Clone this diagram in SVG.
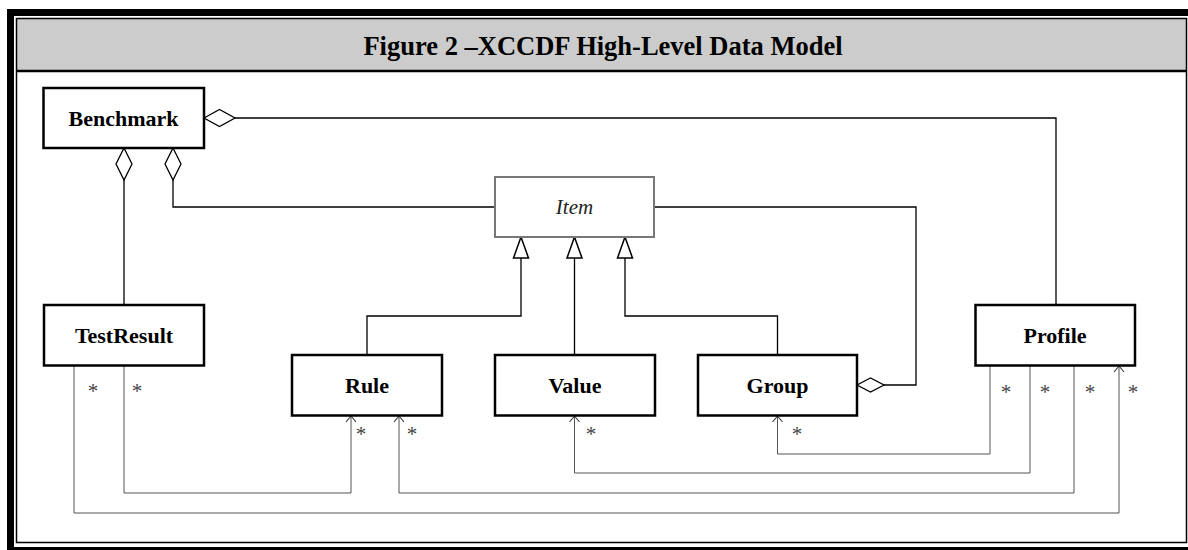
<svg xmlns="http://www.w3.org/2000/svg" width="1188" height="550" viewBox="0 0 1188 550">
<style>
.box{fill:#fff;stroke:#000;stroke-width:2.5}
.abox{fill:#fff;stroke:#777;stroke-width:2}
.lbl{font-family:"Liberation Serif","Times New Roman",serif;font-weight:bold;font-size:22px;text-anchor:middle;fill:#000}
.ital{font-family:"Liberation Serif","Times New Roman",serif;font-style:italic;font-size:21px;text-anchor:middle;fill:#222}
.title{font-family:"Liberation Serif","Times New Roman",serif;font-weight:bold;font-size:26.5px;text-anchor:middle;fill:#000}
.star{font-family:"Liberation Serif","Times New Roman",serif;font-size:21px;text-anchor:middle;fill:#444}
.c{fill:none;stroke:#000;stroke-width:1.3}
.d{fill:none;stroke:#555;stroke-width:1}
.dia{fill:#fff;stroke:#000;stroke-width:1.3}
.tri{fill:#fff;stroke:#000;stroke-width:1.5}
</style>
<defs>
<marker id="open" markerUnits="userSpaceOnUse" markerWidth="14" markerHeight="14" refX="0" refY="0" viewBox="-8 -7 10 14" orient="auto" overflow="visible">
<path d="M-6,-5 L0,0 L-6,5" fill="none" stroke="#333" stroke-width="1.1"/>
</marker>
</defs>
<rect x="0" y="0" width="1188" height="550" fill="#fff"/>
<g id="frame">
<rect x="7" y="9" width="1181" height="7" fill="#000"/>
<rect x="7" y="9" width="7" height="541" fill="#000"/>
<rect x="7" y="547" width="1181" height="3" fill="#000"/>
<rect x="16.5" y="18.5" width="1170" height="52" fill="#ccc"/>
<rect x="16.5" y="18.5" width="1170" height="524" fill="none" stroke="#000" stroke-width="1.5"/>
<line x1="16.5" y1="71" x2="1186.5" y2="71" stroke="#000" stroke-width="2.5"/>
<text class="title" x="603" y="55">Figure 2 –XCCDF High-Level Data Model</text>
</g>
<g id="connectors">
<path class="c" d="M235,118 H1056 V305"/>
<path class="c" d="M124,180 V305"/>
<path class="c" d="M173,180 V207 H495"/>
<path class="c" d="M654,207 H916 V385 H884"/>
<path class="c" d="M367,355 V316 H521 V258"/>
<path class="c" d="M574.5,355 V258"/>
<path class="c" d="M777.5,355 V316 H625 V258"/>
<polygon class="dia" points="204,118 219.5,109.5 235,118 219.5,126.5"/>
<polygon class="dia" points="124,148 132,164 124,180 116,164"/>
<polygon class="dia" points="173,148 181,164 173,180 165,164"/>
<polygon class="dia" points="857,385 870.5,378 884,385 870.5,392"/>
<polygon class="tri" points="521,237 528.5,258 513.5,258"/>
<polygon class="tri" points="574.5,237 582,258 567,258"/>
<polygon class="tri" points="625,237 632.5,258 617.5,258"/>
<path class="d" d="M124,366 V493 H351 V416" marker-end="url(#open)"/>
<path class="d" d="M74,366 V513 H1119 V366" marker-end="url(#open)"/>
<path class="d" d="M1074,366 V493 H399 V416" marker-end="url(#open)"/>
<path class="d" d="M1030,366 V473 H574.5 V416" marker-end="url(#open)"/>
<path class="d" d="M990,366 V454 H777.5 V416" marker-end="url(#open)"/>
<text class="star" x="93" y="398">*</text>
<text class="star" x="137" y="398">*</text>
<text class="star" x="361" y="441">*</text>
<text class="star" x="412" y="441">*</text>
<text class="star" x="591" y="441">*</text>
<text class="star" x="797" y="441">*</text>
<text class="star" x="1006" y="399">*</text>
<text class="star" x="1045" y="399">*</text>
<text class="star" x="1090" y="399">*</text>
<text class="star" x="1133" y="399">*</text>
</g>
<g id="benchmark"><rect class="box" x="43.5" y="88" width="160.5" height="60"/><text class="lbl" x="123.5" y="126">Benchmark</text></g>
<g id="item"><rect class="abox" x="495" y="177" width="159" height="60"/><text class="ital" x="574.5" y="214">Item</text></g>
<g id="testresult"><rect class="box" x="44" y="305" width="160" height="60.5"/><text class="lbl" x="124" y="343">TestResult</text></g>
<g id="rule"><rect class="box" x="292" y="355" width="150" height="60.5"/><text class="lbl" x="367" y="393">Rule</text></g>
<g id="value"><rect class="box" x="495" y="355" width="160" height="60.5"/><text class="lbl" x="575" y="393">Value</text></g>
<g id="group"><rect class="box" x="698" y="355" width="159" height="60.5"/><text class="lbl" x="777.5" y="393">Group</text></g>
<g id="profile"><rect class="box" x="975.5" y="305" width="159.5" height="60.5"/><text class="lbl" x="1055" y="343">Profile</text></g>
</svg>
